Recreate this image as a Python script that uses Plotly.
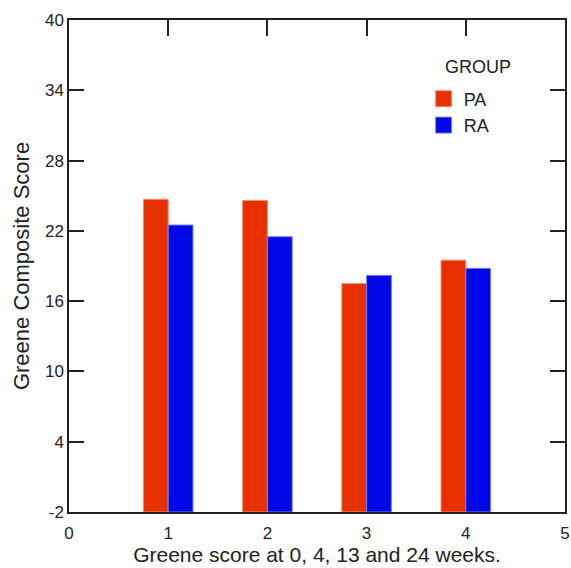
import plotly.graph_objects as go

categories = [1, 2, 3, 4]
pa_values = [24.7, 24.6, 17.5, 19.5]
ra_values = [22.5, 21.5, 18.2, 18.8]
y_ticks = [-2, 4, 10, 16, 22, 28, 34, 40]
x_ticks = [0, 1, 2, 3, 4, 5]
Y_FLOOR = -2

FONT = "Liberation Sans, Arial, sans-serif"
PA_COLOR = "rgb(230,48,0)"
RA_COLOR = "rgb(0,8,230)"
PA_EDGE = "rgb(250,140,120)"
RA_EDGE = "rgb(120,130,250)"

fig = go.Figure()
fig.add_trace(go.Bar(x=categories, y=[v - Y_FLOOR for v in pa_values], base=Y_FLOOR, name="PA",
                     hovertext=[str(v) for v in pa_values], showlegend=False,
                     marker=dict(color=PA_COLOR, line=dict(color=PA_EDGE, width=1))))
fig.add_trace(go.Bar(x=categories, y=[v - Y_FLOOR for v in ra_values], base=Y_FLOOR, name="RA",
                     hovertext=[str(v) for v in ra_values], showlegend=False,
                     marker=dict(color=RA_COLOR, line=dict(color=RA_EDGE, width=1))))
# legend-only entries with larger square swatches
for name, col, edge in [("PA", PA_COLOR, PA_EDGE), ("RA", RA_COLOR, RA_EDGE)]:
    fig.add_trace(go.Scatter(x=[None], y=[None], mode="markers", name=name,
                             marker=dict(symbol="square", size=16, color=col,
                                         line=dict(color=edge, width=1))))

fig.update_layout(
    width=571, height=568,
    margin=dict(l=69, r=6, t=20, b=56, autoexpand=False),
    paper_bgcolor="white", plot_bgcolor="white",
    barmode="group", bargap=0.5, bargroupgap=0,
    font=dict(family=FONT, size=17, color="#222"),
    showlegend=True,
    legend=dict(x=0.715, y=0.877, xanchor="left", yanchor="top",
                bgcolor="rgba(0,0,0,0)", itemsizing="trace",
                font=dict(size=18), traceorder="grouped", tracegroupgap=3),
    annotations=[dict(text="GROUP", xref="paper", yref="paper", x=0.825, y=0.905,
                      xanchor="center", yanchor="middle", showarrow=False,
                      font=dict(size=18, color="#222"))],
)
fig.update_xaxes(range=[0, 5], tickvals=x_ticks, ticktext=[str(t) for t in x_ticks],
                 automargin=False,
                 showgrid=False, zeroline=False, showline=True, linecolor="#222", linewidth=1.5,
                 mirror="allticks", ticks="inside", ticklen=16, tickwidth=2, tickcolor="#222",
                 layer="below traces", ticklabelstandoff=5,
                 title=dict(text="Greene score at 0, 4, 13 and 24 weeks.", font=dict(size=21), standoff=0),
                 tickfont=dict(size=17))
fig.update_yaxes(range=[-2, 40], tickvals=y_ticks, ticktext=[str(t) for t in y_ticks],
                 automargin=False,
                 showgrid=False, zeroline=False, showline=True, linecolor="#222", linewidth=1.5,
                 mirror="allticks", ticks="inside", ticklen=15, tickwidth=2, tickcolor="#222",
                 layer="below traces",
                 title=dict(text="Greene Composite Score", font=dict(size=22), standoff=9),
                 tickfont=dict(size=17))

fig.write_html("out.html", config={"displayModeBar": False},
               post_script="document.body.style.margin='0px';document.body.style.padding='0px';")
